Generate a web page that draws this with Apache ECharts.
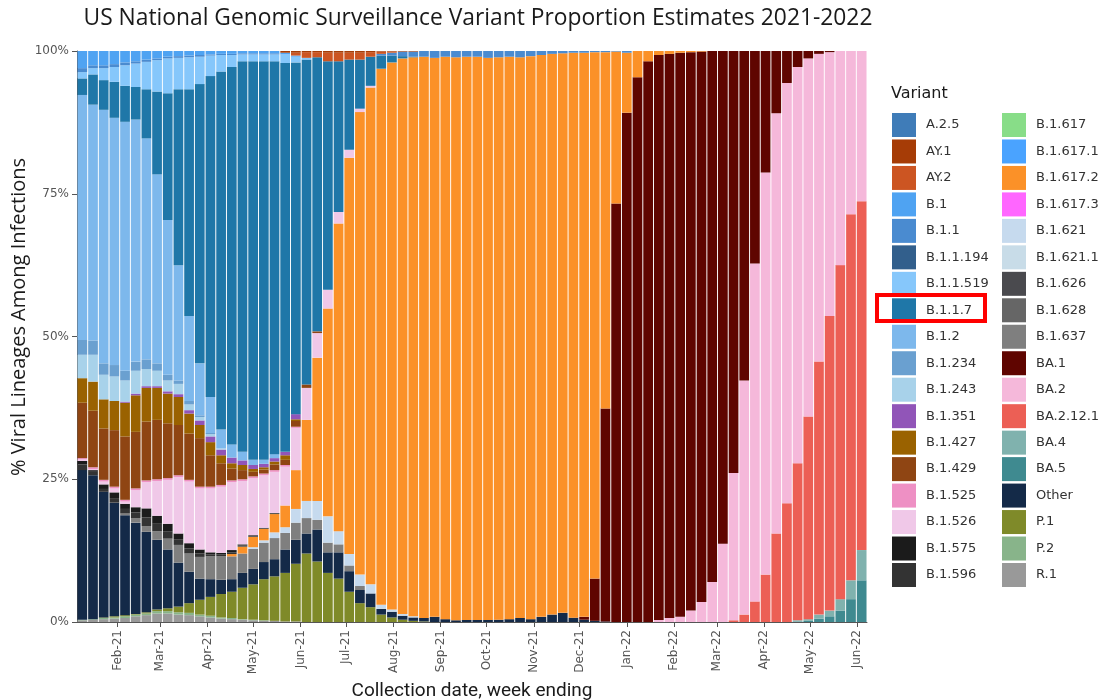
<!DOCTYPE html>
<html>
<head>
<meta charset="utf-8">
<script src="https://cdn.jsdelivr.net/npm/echarts@6/dist/echarts.min.js"></script>
<style>
html, body { margin: 0; padding: 0; background: #ffffff; }
#chart { width: 1113px; height: 700px; }
</style>
</head>
<body>
<div id="chart"></div>
<script>
// Week-ending dates (Saturdays)
const weeks = [
  '2021-01-09','2021-01-16','2021-01-23','2021-01-30','2021-02-06','2021-02-13','2021-02-20','2021-02-27',
  '2021-03-06','2021-03-13','2021-03-20','2021-03-27','2021-04-03','2021-04-10','2021-04-17','2021-04-24',
  '2021-05-01','2021-05-08','2021-05-15','2021-05-22','2021-05-29','2021-06-05','2021-06-12','2021-06-19',
  '2021-06-26','2021-07-03','2021-07-10','2021-07-17','2021-07-24','2021-07-31','2021-08-07','2021-08-14',
  '2021-08-21','2021-08-28','2021-09-04','2021-09-11','2021-09-18','2021-09-25','2021-10-02','2021-10-09',
  '2021-10-16','2021-10-23','2021-10-30','2021-11-06','2021-11-13','2021-11-20','2021-11-27','2021-12-04',
  '2021-12-11','2021-12-18','2021-12-25','2022-01-01','2022-01-08','2022-01-15','2022-01-22','2022-01-29',
  '2022-02-05','2022-02-12','2022-02-19','2022-02-26','2022-03-05','2022-03-12','2022-03-19','2022-03-26',
  '2022-04-02','2022-04-09','2022-04-16','2022-04-23','2022-04-30','2022-05-07','2022-05-14','2022-05-21',
  '2022-05-28','2022-06-04'
];

// Month tick positions and their labels
const monthTicks = [
  '2021-02-01','2021-03-01','2021-04-01','2021-05-01','2021-06-01','2021-07-01','2021-08-01','2021-09-01',
  '2021-10-01','2021-11-01','2021-12-01','2022-01-01','2022-02-01','2022-03-01','2022-04-01','2022-05-01','2022-06-01'
];
const monthLabels = [
  'Feb-21','Mar-21','Apr-21','May-21','Jun-21','Jul-21','Aug-21','Sep-21',
  'Oct-21','Nov-21','Dec-21','Jan-22','Feb-22','Mar-22','Apr-22','May-22','Jun-22'
];

const yTicks = [0, 25, 50, 75, 100];

// Lineages in legend order (first one sits on top of each stack)
const variants = [
  'A.2.5','AY.1','AY.2','B.1','B.1.1','B.1.1.194','B.1.1.519','B.1.1.7','B.1.2',
  'B.1.234','B.1.243','B.1.351','B.1.427','B.1.429','B.1.525','B.1.526','B.1.575','B.1.596',
  'B.1.617','B.1.617.1','B.1.617.2','B.1.617.3','B.1.621','B.1.621.1','B.1.626','B.1.628','B.1.637',
  'BA.1','BA.2','BA.2.12.1','BA.4','BA.5','Other','P.1','P.2','R.1'
];

const variantColors = [
  '#3f7cb8','#a63c06','#cc5522','#4fa3f2','#4a8bd0','#325f8c','#86c7fb','#1f77a8','#7db8ec',
  '#6aa0d0','#a8d2ea','#9155b8','#9a6200','#8f4513','#ee90c4','#f0c8e8','#1b1b1b','#333333',
  '#88dd88','#4aa3ff','#fb9128','#ff66ff','#c6daee','#c8dce8','#4a4a4e','#666666','#7f7f7f',
  '#5f0500','#f5b8da','#ec5f55','#80b2ae','#3f8a90','#142a48','#7f8a29','#88b48a','#999999'
];

// Weekly proportions (%), one value per week
const A_2_5 = [];
const AY_1 = [
  0,0,0,0,0,0,0,0,0,0,
  0,0,0,0,0,0,0,0,0,0.3,
  0.3,0.2,0.2,0.3,0.3,0.3,0.3,0.2,0.1,0.1,
  0.1,0.1,0,0,0,0,0,0,0,0,
  0,0,0,0,0,0,0,0,0,0,
  0,0,0,0,0,0,0,0,0,0,
  0,0,0,0,0,0,0,0,0,0,
  0,0,0,0
];
const AY_2 = [
  0,0,0,0,0,0,0,0,0,0,
  0,0,0,0,0,0,0,0,0,0,
  0.5,1.0,0.9,1.5,1.5,1.2,1.2,0.8,0.4,0.2,
  0,0,0,0,0,0,0,0,0,0,
  0,0,0,0,0,0,0,0,0,0,
  0,0,0,0,0,0,0,0,0,0,
  0,0,0,0,0,0,0,0,0,0,
  0,0,0,0
];
const B_1 = [
  3.0,2.5,2.5,2.3,2.0,1.8,1.5,1.3,1.0,0.9,
  0.8,0.7,0.6,0.5,0.5,0.4,0.4,0.4,0.4,0.3,
  0.2,0,0,0,0,0,0,0,0,0,
  0,0,0,0,0,0,0,0,0,0,
  0,0,0,0,0,0,0,0,0,0,
  0,0,0,0,0,0,0,0,0,0,
  0,0,0,0,0,0,0,0,0,0,
  0,0,0,0
];
const B_1_1 = [
  0.7,0.5,0.5,0.5,0.5,0.4,0.4,0.3,0.3,0.3,
  0.3,0.3,0.2,0.2,0.2,0.2,0.2,0.2,0.2,0,
  0,0,0,0,0,0,0,0,0.3,0.5,
  0.8,0.9,1.0,1.2,1.0,1.1,1.0,1.0,1.2,1.1,
  1.0,1.1,0.9,0.7,0.5,0.4,0.3,0.3,0.2,0.2,
  0.1,0.3,0,0,0,0,0,0,0,0,
  0,0,0,0,0,0,0,0,0,0,
  0,0,0,0
];
const B_1_1_194 = [];
const B_1_1_519 = [
  1.1,1.1,2.1,2.6,3.6,4.1,4.8,5.5,6.1,5.5,
  5.6,4.8,3.6,2.9,2.1,1.2,1.2,1.2,1.2,1.5,
  1.0,0.3,0,0,0,0,0,0,0,0,
  0,0,0,0,0,0,0,0,0,0,
  0,0,0,0,0,0,0,0,0,0,
  0,0,0,0,0,0,0,0,0,0,
  0,0,0,0,0,0,0,0,0,0,
  0,0,0,0
];
const B_1_1_7 = [
  2.9,5.3,5.2,6.3,6.3,5.7,8.6,14.5,22.2,30.8,
  39.7,48.9,56.2,62.7,66.1,68.4,69.8,69.8,68.8,68.1,
  61.6,56.9,48.0,40.0,26.4,15.8,8.6,5.1,2.3,1.2,
  0.4,0.1,0,0,0,0,0,0,0,0,
  0,0,0,0,0,0,0,0,0,0,
  0,0,0,0,0,0,0,0,0,0,
  0,0,0,0,0,0,0,0,0,0,
  0,0,0,0
];
const B_1_2 = [
  42.9,41.3,44.4,43.3,43.6,42.4,38.7,33.1,27.1,20.2,
  14.9,9.1,6.3,3.3,2.3,1.5,0.9,0.7,0.7,0,
  0,0,0,0,0,0,0,0,0,0,
  0,0,0,0,0,0,0,0,0,0,
  0,0,0,0,0,0,0,0,0,0,
  0,0,0,0,0,0,0,0,0,0,
  0,0,0,0,0,0,0,0,0,0,
  0,0,0,0
];
const B_1_234 = [
  2.6,2.5,2.0,2.0,1.7,1.6,1.7,1.3,1.0,0.6,
  0.6,0.3,0.2,0,0,0,0,0,0,0,
  0,0,0,0,0,0,0,0,0,0,
  0,0,0,0,0,0,0,0,0,0,
  0,0,0,0,0,0,0,0,0,0,
  0,0,0,0,0,0,0,0,0,0,
  0,0,0,0,0,0,0,0,0,0,
  0,0,0,0
];
const B_1_243 = [
  4.1,4.7,4.3,4.3,3.7,4.0,3.0,2.7,1.9,1.8,
  1.0,0.6,0.4,0.2,0,0,0,0,0,0,
  0,0,0,0,0,0,0,0,0,0,
  0,0,0,0,0,0,0,0,0,0,
  0,0,0,0,0,0,0,0,0,0,
  0,0,0,0,0,0,0,0,0,0,
  0,0,0,0,0,0,0,0,0,0,
  0,0,0,0
];
const B_1_351 = [
  0,0,0,0,0.2,0.3,0.3,0.3,0.4,0.5,
  0.6,0.8,1.0,1.0,1.0,0.8,0.7,0.6,0.6,0.6,
  0.9,0,0,0,0,0,0,0,0,0,
  0,0,0,0,0,0,0,0,0,0,
  0,0,0,0,0,0,0,0,0,0,
  0,0,0,0,0,0,0,0,0,0,
  0,0,0,0,0,0,0,0,0,0,
  0,0,0,0
];
const B_1_427 = [
  4.3,5.1,5.1,5.1,5.9,6.4,5.9,5.6,5.2,4.9,
  3.5,2.3,2.3,1.4,0.9,0.9,0.5,0.4,0.5,0.8,
  0.3,0,0,0,0,0,0,0,0,0,
  0,0,0,0,0,0,0,0,0,0,
  0,0,0,0,0,0,0,0,0,0,
  0,0,0,0,0,0,0,0,0,0,
  0,0,0,0,0,0,0,0,0,0,
  0,0,0,0
];
const B_1_429 = [
  9.7,9.9,9.0,9.9,11.1,9.9,10.3,10.4,9.6,8.8,
  8.1,8.5,5.5,3.8,2.1,1.6,0.8,0.7,1.0,0.9,
  1.0,0.6,0.3,0,0,0,0,0,0,0,
  0,0,0,0,0,0,0,0,0,0,
  0,0,0,0,0,0,0,0,0,0,
  0,0,0,0,0,0,0,0,0,0,
  0,0,0,0,0,0,0,0,0,0,
  0,0,0,0
];
const B_1_525 = [
  0.2,0.3,0.3,0.3,0.3,0.3,0.3,0.3,0.3,0.3,
  0.3,0.3,0.3,0.3,0.3,0.3,0.3,0.3,0.3,0.3,
  0.2,0,0,0,0,0,0,0,0,0,
  0,0,0,0,0,0,0,0,0,0,
  0,0,0,0,0,0,0,0,0,0,
  0,0,0,0,0,0,0,0,0,0,
  0,0,0,0,0,0,0,0,0,0,
  0,0,0,0
];
const B_1_526 = [
  0.3,0.2,0.5,0.7,0.4,3.0,4.6,6.1,7.7,9.9,
  10.8,10.7,11.2,11.6,11.9,11.1,10.0,9.2,7.2,6.8,
  7.4,5.6,4.3,3.3,2.0,1.4,0.6,0.3,0,0,
  0,0,0,0,0,0,0,0,0,0,
  0,0,0,0,0,0,0,0,0,0,
  0,0,0,0,0,0,0,0,0,0,
  0,0,0,0,0,0,0,0,0,0,
  0,0,0,0
];
const B_1_575 = [
  0.6,0.3,0.8,1.0,0.9,0.9,1.6,1.4,1.3,1.0,
  0.9,0.7,0.4,0.3,0.4,0.2,0.2,0.1,0.1,0,
  0,0,0,0,0,0,0,0,0,0,
  0,0,0,0,0,0,0,0,0,0,
  0,0,0,0,0,0,0,0,0,0,
  0,0,0,0,0,0,0,0,0,0,
  0,0,0,0,0,0,0,0,0,0,
  0,0,0,0
];
const B_1_596 = [
  1.0,0.6,0.5,0.8,0.8,1.0,1.5,1.3,1.3,1.0,
  0.9,0.6,0.3,0.3,0.3,0.2,0.1,0.1,0.1,0,
  0,0,0,0,0,0,0,0,0,0,
  0,0,0,0,0,0,0,0,0,0,
  0,0,0,0,0,0,0,0,0,0,
  0,0,0,0,0,0,0,0,0,0,
  0,0,0,0,0,0,0,0,0,0,
  0,0,0,0
];
const B_1_617 = [];
const B_1_617_1 = [];
const B_1_617_2 = [
  0,0,0,0,0,0,0,0,0,0,
  0,0,0,0,0.4,1.2,1.8,2.0,3.2,3.8,
  6.8,14.2,25.1,36.4,53.9,69.4,81.0,87.0,93.9,95.8,
  97.3,97.9,98.3,97.9,98.5,98.6,98.65,98.65,98.45,98.5,
  98.5,98.2,98.6,98.4,98.2,98.0,98.95,98.8,92.2,62.4,
  26.6,10.5,4.6,1.8,0.7,0.5,0.3,0.2,0.1,0,
  0,0,0,0,0,0,0,0,0,0,
  0,0,0,0
];
const B_1_617_3 = [];
const B_1_621 = [
  0,0,0,0,0,0,0,0,0,0,
  0,0,0,0,0,0,0.3,0.4,1.0,1.0,
  2.4,3.0,3.3,4.6,2.3,2.0,2.0,1.6,0.7,0.4,
  0.3,0.2,0,0,0,0,0,0,0,0,
  0,0,0,0,0,0,0,0,0,0,
  0,0,0,0,0,0,0,0,0,0,
  0,0,0,0,0,0,0,0,0,0,
  0,0,0,0
];
const B_1_621_1 = [];
const B_1_626 = [];
const B_1_628 = [];
const B_1_637 = [
  0,0,0,0,0.3,0.8,1.0,1.5,1.9,3.1,
  3.2,3.8,4.0,4.1,4.0,3.4,3.5,3.4,3.7,2.9,
  3.0,2.7,1.7,1.7,1.4,1.0,0.7,0,0,0,
  0,0,0,0,0,0,0,0,0,0,
  0,0,0,0,0,0,0,0,0,0,
  0,0,0,0,0,0,0,0,0,0,
  0,0,0,0,0,0,0,0,0,0,
  0,0,0,0
];
const BA_1 = [
  0,0,0,0,0,0,0,0,0,0,
  0,0,0,0,0,0,0,0,0,0,
  0,0,0,0,0,0,0,0,0,0,
  0,0,0,0,0,0,0,0,0,0,
  0,0,0,0,0,0,0,0.5,7.4,37.3,
  73.3,89.2,95.4,98.2,98.95,98.8,98.8,97.8,96.4,93.0,
  86.3,73.9,57.7,37.2,21.3,10.9,5.6,2.8,1.3,0.5,
  0.2,0,0,0
];
const BA_2 = [
  0,0,0,0,0,0,0,0,0,0,
  0,0,0,0,0,0,0,0,0,0,
  0,0,0,0,0,0,0,0,0,0,
  0,0,0,0,0,0,0,0,0,0,
  0,0,0,0,0,0,0,0,0,0,
  0,0,0,0,0.35,0.7,0.9,2.0,3.5,7.0,
  13.7,25.8,41.0,59.2,70.4,73.6,73.6,69.4,62.7,53.9,
  46.2,37.5,28.6,26.3
];
const BA_2_12_1 = [
  0,0,0,0,0,0,0,0,0,0,
  0,0,0,0,0,0,0,0,0,0,
  0,0,0,0,0,0,0,0,0,0,
  0,0,0,0,0,0,0,0,0,0,
  0,0,0,0,0,0,0,0,0,0,
  0,0,0,0,0,0,0,0,0,0,
  0,0.3,1.3,3.6,8.3,15.5,20.8,27.5,35.5,44.3,
  51.6,58.5,64.1,61.1
];
const BA_4 = [
  0,0,0,0,0,0,0,0,0,0,
  0,0,0,0,0,0,0,0,0,0,
  0,0,0,0,0,0,0,0,0,0,
  0,0,0,0,0,0,0,0,0,0,
  0,0,0,0,0,0,0,0,0,0,
  0,0,0,0,0,0,0,0,0,0,
  0,0,0,0,0,0,0,0.2,0.3,0.7,
  1.0,2.0,3.3,5.3
];
const BA_5 = [
  0,0,0,0,0,0,0,0,0,0,
  0,0,0,0,0,0,0,0,0,0,
  0,0,0,0,0,0,0,0,0,0,
  0,0,0,0,0,0,0,0,0,0,
  0,0,0,0,0,0,0,0,0,0,
  0,0,0,0,0,0,0,0,0,0,
  0,0,0,0,0,0,0,0.1,0.2,0.6,
  1.0,2.0,4.0,7.3
];
const OTHER = [
  26.2,25.2,22.0,19.9,17.5,16.0,14.1,12.2,10.3,7.7,
  5.5,3.7,3.1,2.5,2.2,2.6,2.7,3.0,3.0,4.1,
  4.2,3.5,5.6,3.6,4.6,3.6,2.3,2.4,1.0,1.0,
  0.7,0.6,0.6,0.9,0.5,0.3,0.35,0.35,0.35,0.4,
  0.5,0.7,0.5,0.9,1.3,1.6,0.75,0.4,0.2,0.1,
  0,0,0,0,0,0,0,0,0,0,
  0,0,0,0,0,0,0,0,0,0,
  0,0,0,0
];
const P_1 = [
  0,0,0.1,0.2,0.2,0.1,0.2,0.3,0.5,1.0,
  1.7,2.6,3.3,4.1,4.6,5.5,6.2,7.2,7.8,8.5,
  10.1,12.0,10.6,8.6,7.6,5.3,3.3,2.6,1.3,0.8,
  0.4,0.2,0.1,0,0,0,0,0,0,0,
  0,0,0,0,0,0,0,0,0,0,
  0,0,0,0,0,0,0,0,0,0,
  0,0,0,0,0,0,0,0,0,0,
  0,0,0,0
];
const P_2 = [
  0.1,0.1,0.2,0.2,0.3,0.3,0.3,0.4,0.4,0.4,
  0.4,0.3,0.3,0.2,0.2,0.1,0.1,0.1,0,0,
  0,0,0,0,0,0,0,0,0,0,
  0,0,0,0,0,0,0,0,0,0,
  0,0,0,0,0,0,0,0,0,0,
  0,0,0,0,0,0,0,0,0,0,
  0,0,0,0,0,0,0,0,0,0,
  0,0,0,0
];
const R_1 = [
  0.3,0.4,0.5,0.6,0.7,1.0,1.2,1.5,1.5,1.3,
  1.2,1.0,0.8,0.6,0.5,0.4,0.3,0.2,0.2,0.1,
  0.1,0,0,0,0,0,0,0,0,0,
  0,0,0,0,0,0,0,0,0,0,
  0,0,0,0,0,0,0,0,0,0,
  0,0,0,0,0,0,0,0,0,0,
  0,0,0,0,0,0,0,0,0,0,
  0,0,0,0
];

const valuesByVariant = {
  'A.2.5': A_2_5, 'AY.1': AY_1, 'AY.2': AY_2, 'B.1': B_1, 'B.1.1': B_1_1,
  'B.1.1.194': B_1_1_194, 'B.1.1.519': B_1_1_519, 'B.1.1.7': B_1_1_7, 'B.1.2': B_1_2,
  'B.1.234': B_1_234, 'B.1.243': B_1_243, 'B.1.351': B_1_351, 'B.1.427': B_1_427,
  'B.1.429': B_1_429, 'B.1.525': B_1_525, 'B.1.526': B_1_526, 'B.1.575': B_1_575,
  'B.1.596': B_1_596, 'B.1.617': B_1_617, 'B.1.617.1': B_1_617_1, 'B.1.617.2': B_1_617_2,
  'B.1.617.3': B_1_617_3, 'B.1.621': B_1_621, 'B.1.621.1': B_1_621_1, 'B.1.626': B_1_626,
  'B.1.628': B_1_628, 'B.1.637': B_1_637, 'BA.1': BA_1, 'BA.2': BA_2, 'BA.2.12.1': BA_2_12_1,
  'BA.4': BA_4, 'BA.5': BA_5, 'Other': OTHER, 'P.1': P_1, 'P.2': P_2, 'R.1': R_1
};

// Dates are placed on a linear axis measured in days since 1970-01-01 (UTC)
const DAY = 86400000;
const toDay = s => Date.parse(s + 'T00:00:00Z') / DAY;
const weekDays = weeks.map(toDay);
const tickDays = monthTicks.map(toDay);

// Stack from the bottom up: last legend entry first.
// Each item is [share, day] so the share is the dimension that gets stacked.
const series = [];
for (let i = variants.length - 1; i >= 0; i--) {
  const name = variants[i];
  const vals = valuesByVariant[name];
  series.push({
    name: name,
    type: 'bar',
    stack: 'share',
    barWidth: '91%',
    encode: { x: 1, y: 0 },
    itemStyle: { color: variantColors[i] },
    emphasis: { disabled: true },
    data: vals.map((v, j) => [v, weekDays[j]])
  });
}

const legendBase = {
  orient: 'vertical',
  top: 113,
  padding: 0,
  itemWidth: 24,
  itemHeight: 24,
  itemGap: 2.47,
  icon: 'rect',
  selectedMode: false,
  textStyle: { fontFamily: 'DejaVu Sans', fontSize: 13, color: '#333333', padding: [0, 0, 0, 5] }
};

const chart = echarts.init(document.getElementById('chart'), null, { renderer: 'canvas' });
chart.setOption({
  animation: false,
  backgroundColor: '#ffffff',
  title: {
    text: 'US National Genomic Surveillance Variant Proportion Estimates 2021-2022',
    left: 473,
    top: 2,
    textAlign: 'center',
    textStyle: { fontFamily: 'Open Sans', fontSize: 22.8, fontWeight: 'normal', color: '#1a1a1a' }
  },
  grid: { left: 77, right: 246, top: 51, bottom: 78, containLabel: false, outerBoundsMode: 'none' },
  xAxis: {
    type: 'value',
    min: toDay('2021-01-05') + 0.5,
    max: toDay('2022-06-07') + 0.5,
    axisLine: { show: true, lineStyle: { color: '#555555', width: 1 } },
    axisTick: { show: true, customValues: tickDays, length: 5, lineStyle: { color: '#555555' } },
    axisLabel: {
      customValues: tickDays,
      rotate: 90,
      margin: 8,
      color: '#555555',
      fontFamily: 'DejaVu Sans',
      fontSize: 12,
      formatter: v => monthLabels[tickDays.indexOf(v)] || ''
    },
    splitLine: { show: false },
    name: 'Collection date, week ending',
    nameLocation: 'middle',
    nameGap: 59,
    nameTextStyle: { fontFamily: 'Liberation Sans Narrow, Roboto, sans-serif', fontSize: 19, color: '#1a1a1a' }
  },
  yAxis: {
    type: 'value',
    min: yTicks[0],
    max: yTicks[yTicks.length - 1],
    interval: 25,
    axisLine: { show: true, lineStyle: { color: '#555555', width: 1 } },
    axisTick: { show: true, length: 5, lineStyle: { color: '#555555' } },
    axisLabel: { formatter: '{value}%', color: '#555555', fontFamily: 'DejaVu Sans', fontSize: 12, margin: 8 },
    splitLine: { show: false }
  },
  legend: [
    Object.assign({}, legendBase, { left: 892, data: variants.slice(0, 18) }),
    Object.assign({}, legendBase, { left: 1002, data: variants.slice(18) })
  ],
  graphic: [
    {
      type: 'text',
      x: 19,
      y: 317,
      rotation: Math.PI / 2,
      style: {
        text: '% Viral Lineages Among Infections',
        fontFamily: 'Open Sans',
        fontSize: 20,
        fill: '#1a1a1a',
        align: 'center',
        verticalAlign: 'middle'
      }
    },
    {
      type: 'text',
      left: 891,
      top: 86,
      style: { text: 'Variant', fontFamily: 'DejaVu Sans', fontSize: 16, fill: '#1a1a1a' }
    },
    {
      type: 'rect',
      shape: { x: 877, y: 295, width: 108, height: 26 },
      style: { fill: 'none', stroke: '#ff0000', lineWidth: 4 },
      z: 100
    }
  ],
  series: series
});
</script>
</body>
</html>
